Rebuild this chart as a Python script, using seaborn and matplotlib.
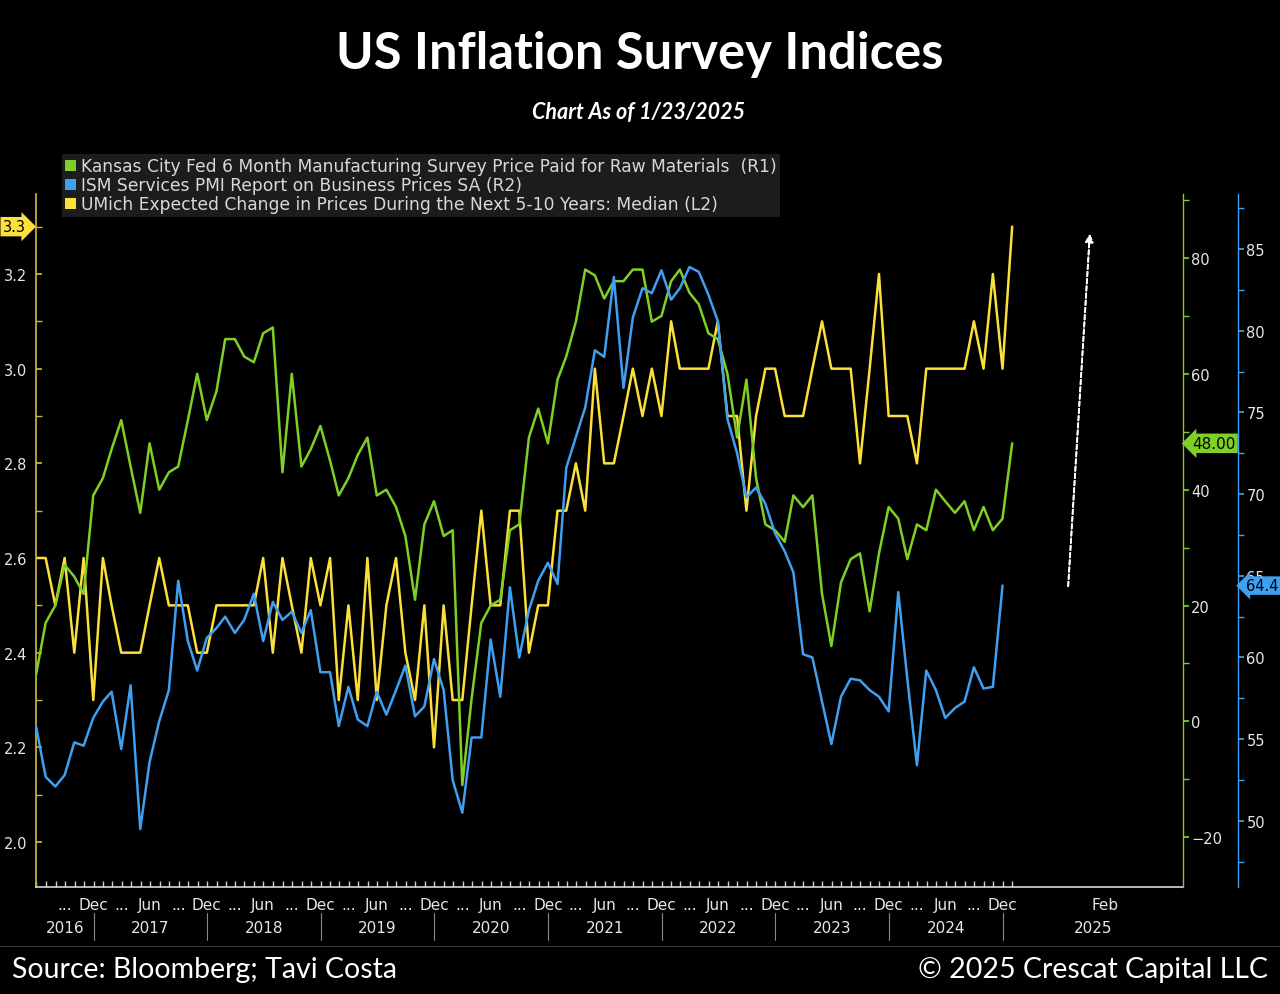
import pandas as pd
import seaborn as sns
import matplotlib.pyplot as plt
from matplotlib.patches import Patch
from matplotlib.lines import Line2D
from matplotlib.ticker import MultipleLocator, FormatStrFormatter, FixedLocator
import matplotlib.dates as mdates

sns.set_theme(style='dark', rc={
    'figure.facecolor': 'black',
    'axes.facecolor': 'black',
    'axes.grid': False,
    'text.color': 'white',
    'xtick.color': '#e6e6e6',
    'ytick.color': '#e6e6e6',
})
plt.rcParams['font.family'] = ['DejaVu Sans']

# monthly readings starting Jun 2016 (month end)
first_month = '2016-06-01'

# UMich 5-10y expected inflation, median (L2), Jun 2016 .. Jan 2025
umich_5_10y = [2.6, 2.6, 2.5, 2.6, 2.4, 2.6, 2.3, 2.6, 2.5, 2.4,
               2.4, 2.4, 2.5, 2.6, 2.5, 2.5, 2.5, 2.4, 2.4, 2.5,
               2.5, 2.5, 2.5, 2.5, 2.6, 2.4, 2.6, 2.5, 2.4, 2.6,
               2.5, 2.6, 2.3, 2.5, 2.3, 2.6, 2.3, 2.5, 2.6, 2.4,
               2.3, 2.5, 2.2, 2.5, 2.3, 2.3, 2.5, 2.7, 2.5, 2.5,
               2.7, 2.7, 2.4, 2.5, 2.5, 2.7, 2.7, 2.8, 2.7, 3.0,
               2.8, 2.8, 2.9, 3.0, 2.9, 3.0, 2.9, 3.1, 3.0, 3.0,
               3.0, 3.0, 3.1, 2.9, 2.9, 2.7, 2.9, 3.0, 3.0, 2.9,
               2.9, 2.9, 3.0, 3.1, 3.0, 3.0, 3.0, 2.8, 3.0, 3.2,
               2.9, 2.9, 2.9, 2.8, 3.0, 3.0, 3.0, 3.0, 3.0, 3.1,
               3.0, 3.2, 3.0, 3.3]

# Kansas City Fed mfg survey, 6m prices paid raw materials (R1), Jun 2016 .. Jan 2025
kc_fed_prices = [8, 17, 20, 27, 25, 22, 39, 42, 47, 52,
                 44, 36, 48, 40, 43, 44, 52, 60, 52, 57,
                 66, 66, 63, 62, 67, 68, 43, 60, 44, 47,
                 51, 45, 39, 42, 46, 49, 39, 40, 37, 32,
                 21, 34, 38, 32, 33, -11, 4, 17, 20, 21,
                 33, 34, 49, 54, 48, 59, 63, 69, 78, 77,
                 73, 76, 76, 78, 78, 69, 70, 76, 78, 74,
                 72, 67, 66, 60, 49, 59, 42, 34, 33, 31,
                 39, 37, 39, 22, 13, 24, 28, 29, 19, 29,
                 37, 35, 28, 34, 33, 40, 38, 36, 38, 33,
                 37, 33, 35, 48]

# ISM services prices SA (R2), Jun 2016 .. Dec 2024
ism_services_prices = [55.8, 52.7, 52.1, 52.8, 54.8, 54.6, 56.3, 57.3, 57.9, 54.4,
                       58.3, 49.5, 53.6, 56.1, 58.0, 64.7, 61.0, 59.2, 61.2, 61.8,
                       62.5, 61.5, 62.3, 63.9, 61.0, 63.4, 62.3, 62.8, 61.5, 62.9,
                       59.1, 59.1, 55.8, 58.2, 56.2, 55.8, 57.9, 56.5, 58.0, 59.5,
                       56.4, 57.0, 59.9, 58.0, 52.5, 50.5, 55.1, 55.1, 61.1, 57.6,
                       64.3, 60.0, 62.9, 64.7, 65.8, 64.5, 71.6, 73.5, 75.3, 78.8,
                       78.4, 83.3, 76.5, 80.8, 82.6, 82.3, 83.7, 81.9, 82.6, 83.9,
                       83.6, 82.2, 80.6, 74.6, 72.5, 69.8, 70.4, 69.4, 67.6, 66.5,
                       65.2, 60.2, 60.0, 57.3, 54.7, 57.6, 58.7, 58.6, 58.0, 57.6,
                       56.7, 64.0, 58.7, 53.4, 59.2, 58.0, 56.3, 56.9, 57.3, 59.4,
                       58.1, 58.2, 64.4]

legend_labels = [
    'Kansas City Fed 6 Month Manufacturing Survey Price Paid for Raw Materials  (R1)',
    'ISM Services PMI Report on Business Prices SA (R2)',
    'UMich Expected Change in Prices During the Next 5-10 Years: Median (L2)',
]

GREEN = '#7fcf26'
BLUE = '#3f9ff0'
YELLOW = '#fbe03c'
TXT = '#e6e6e6'

months = pd.date_range(first_month, periods=len(kc_fed_prices), freq='MS') + pd.offsets.MonthEnd(0)
df = pd.DataFrame({'date': months, 'kc': kc_fed_prices, 'umich': umich_5_10y})
ism_df = pd.DataFrame({'date': months[:len(ism_services_prices)], 'ism': ism_services_prices})

W, H = 1280, 995
fig = plt.figure(figsize=(W / 100, H / 100), dpi=100)
ax = fig.add_axes([36 / W, 1 - 888 / H, (1183 - 36) / W, (888 - 195) / H])
ax_r1 = ax.twinx()
ax_r2 = ax.twinx()
r2_pos = (1238 - 36) / (1183 - 36)
ax_r2.spines['right'].set_position(('axes', r2_pos))

sns.lineplot(data=df, x='date', y='kc', ax=ax_r1, color=GREEN, linewidth=1.8)
sns.lineplot(data=ism_df, x='date', y='ism', ax=ax_r2, color=BLUE, linewidth=1.8)
sns.lineplot(data=df, x='date', y='umich', ax=ax, color=YELLOW, linewidth=1.8)
for a in (ax, ax_r1, ax_r2):
    a.set_xlabel('')
    a.set_ylabel('')

ax.set_xlim(pd.Timestamp('2016-06-30'), pd.Timestamp('2026-08-03'))
ax.set_ylim(1.905, 3.369)
ax_r1.set_ylim(-28.6, 91.05)
ax_r2.set_ylim(45.95, 88.37)

# spines
for s in ('top', 'right'):
    ax.spines[s].set_visible(False)
ax.spines['left'].set_color('#c9b43a')
ax.spines['bottom'].set_color('#cfcfcf')
for a, c in ((ax_r1, GREEN), (ax_r2, BLUE)):
    for s in ('top', 'left', 'bottom'):
        a.spines[s].set_visible(False)
    a.spines['right'].set_color(c)
    a.spines['right'].set_linewidth(1.0)

# y axes
ax.yaxis.set_major_locator(MultipleLocator(0.2))
ax.yaxis.set_minor_locator(MultipleLocator(0.1))
ax.yaxis.set_major_formatter(FormatStrFormatter('%.1f'))
ax.tick_params(axis='y', which='both', direction='in', length=4, color='#c9b43a',
               labelcolor=TXT, labelsize=10.5, pad=6, left=True)

ax_r1.yaxis.set_major_locator(MultipleLocator(20))
ax_r1.yaxis.set_minor_locator(MultipleLocator(10))
ax_r1.tick_params(axis='y', which='both', direction='out', length=4, color=GREEN,
                  labelcolor=TXT, labelsize=10.5, pad=2, right=True)

ax_r2.yaxis.set_major_locator(MultipleLocator(5))
ax_r2.yaxis.set_minor_locator(MultipleLocator(2.5))
ax_r2.tick_params(axis='y', which='both', direction='out', length=4, color=BLUE,
                  labelcolor=TXT, labelsize=10.5, pad=2, right=True)

# x axis: month ticks plus "... Dec ... Jun" labels, years underneath
tick_pos, tick_lab = [], []
for yr in range(2016, 2025):
    for md, lab in (('03-31', '...'), ('06-30', 'Jun'), ('09-30', '...'), ('12-31', 'Dec')):
        d = pd.Timestamp(f'{yr}-{md}')
        if d > months[0]:
            tick_pos.append(d)
            tick_lab.append(lab)
tick_pos.append(pd.Timestamp('2025-11-27'))
tick_lab.append('Feb')
ax.set_xticks(tick_pos)
ax.set_xticklabels(tick_lab)
month_ticks = pd.date_range('2016-07-01', '2025-02-01', freq='MS')
ax.xaxis.set_minor_locator(FixedLocator(mdates.date2num(month_ticks)))
ax.tick_params(axis='x', which='major', length=0, labelsize=11, labelcolor=TXT, pad=7)
ax.tick_params(axis='x', which='minor', direction='in', length=4, color='#cfcfcf', bottom=True)

xmin, xmax = ax.get_xlim()
xt = ax.get_xaxis_transform()
for yr in range(2016, 2026):
    lo = max(mdates.date2num(pd.Timestamp(f'{yr}-01-01')), xmin)
    hi = xmax if yr == 2025 else mdates.date2num(pd.Timestamp(f'{yr + 1}-01-01'))
    ax.text((lo + hi) / 2, -0.058, str(yr), transform=xt, ha='center', va='center',
            fontsize=11, color=TXT)
    if yr > 2016:
        ax.plot([lo, lo], [-0.038, -0.076], transform=xt, color='#8a8a8a', lw=0.8, clip_on=False)

# last value tags
ax.text(-0.009, umich_5_10y[-1], f'{umich_5_10y[-1]:.1f}', transform=ax.get_yaxis_transform(),
        ha='right', va='center', fontsize=10.5, color='black',
        bbox=dict(boxstyle='rarrow,pad=0.15', fc=YELLOW, ec='none'))
ax_r1.text(1.008, kc_fed_prices[-1], f'{kc_fed_prices[-1]:.2f}', transform=ax_r1.get_yaxis_transform(),
           ha='left', va='center', fontsize=11, color='black',
           bbox=dict(boxstyle='larrow,pad=0.15', fc=GREEN, ec='none'))
ax_r2.text(r2_pos + 0.007, ism_services_prices[-1], f'{ism_services_prices[-1]:.1f}',
           transform=ax_r2.get_yaxis_transform(), ha='left', va='center', fontsize=10.5, color='black',
           bbox=dict(boxstyle='larrow,pad=0.12', fc=BLUE, ec='none'), clip_on=False, zorder=5)

# legend
handles = [Patch(facecolor=c, edgecolor='none', label=l)
           for c, l in zip((GREEN, BLUE, YELLOW), legend_labels)]
fig.legend(handles=handles, loc='upper left', bbox_to_anchor=(62 / W, 1 - 155 / H),
           frameon=True, facecolor='#1c1c1c', edgecolor='none', framealpha=1, fancybox=False,
           labelcolor='#d8d8d8', fontsize=12.3, handlelength=0.6, handleheight=0.6,
           handletextpad=0.3, labelspacing=0.05, borderpad=0.2, borderaxespad=0)

# dashed arrow
fig.add_artist(plt.annotate('', xy=(1090 / W, 1 - 232 / H), xytext=(1068 / W, 1 - 590 / H),
                            xycoords='figure fraction', textcoords='figure fraction',
                            arrowprops=dict(arrowstyle='-|>', color='white', lw=1.3,
                                            linestyle=(0, (2.5, 1.5)), mutation_scale=12)))

# titles and footer
fig.text(0.5, 1 - 55 / H, 'US Inflation Survey Indices', ha='center', va='center',
         fontsize=36.5, fontweight='bold', family='Lato', color='white')
fig.text(639 / W, 1 - 113 / H, 'Chart As of 1/23/2025', ha='center', va='center',
         fontsize=15.5, fontweight='bold', style='italic', family='Lato', color='white')
fig.add_artist(Line2D([0, 1], [1 - 947 / H] * 2, color='#3a3a3a', lw=0.8))
fig.text(12 / W, 1 - 970 / H, 'Source: Bloomberg; Tavi Costa', ha='left', va='center',
         fontsize=20.5, family='Lato', color='white')
fig.text(1268 / W, 1 - 970 / H, '\u00a9 2025 Crescat Capital LLC', ha='right', va='center',
         fontsize=20.5, family='Lato', color='white')

fig.savefig('out.png', dpi=100, facecolor='black')
